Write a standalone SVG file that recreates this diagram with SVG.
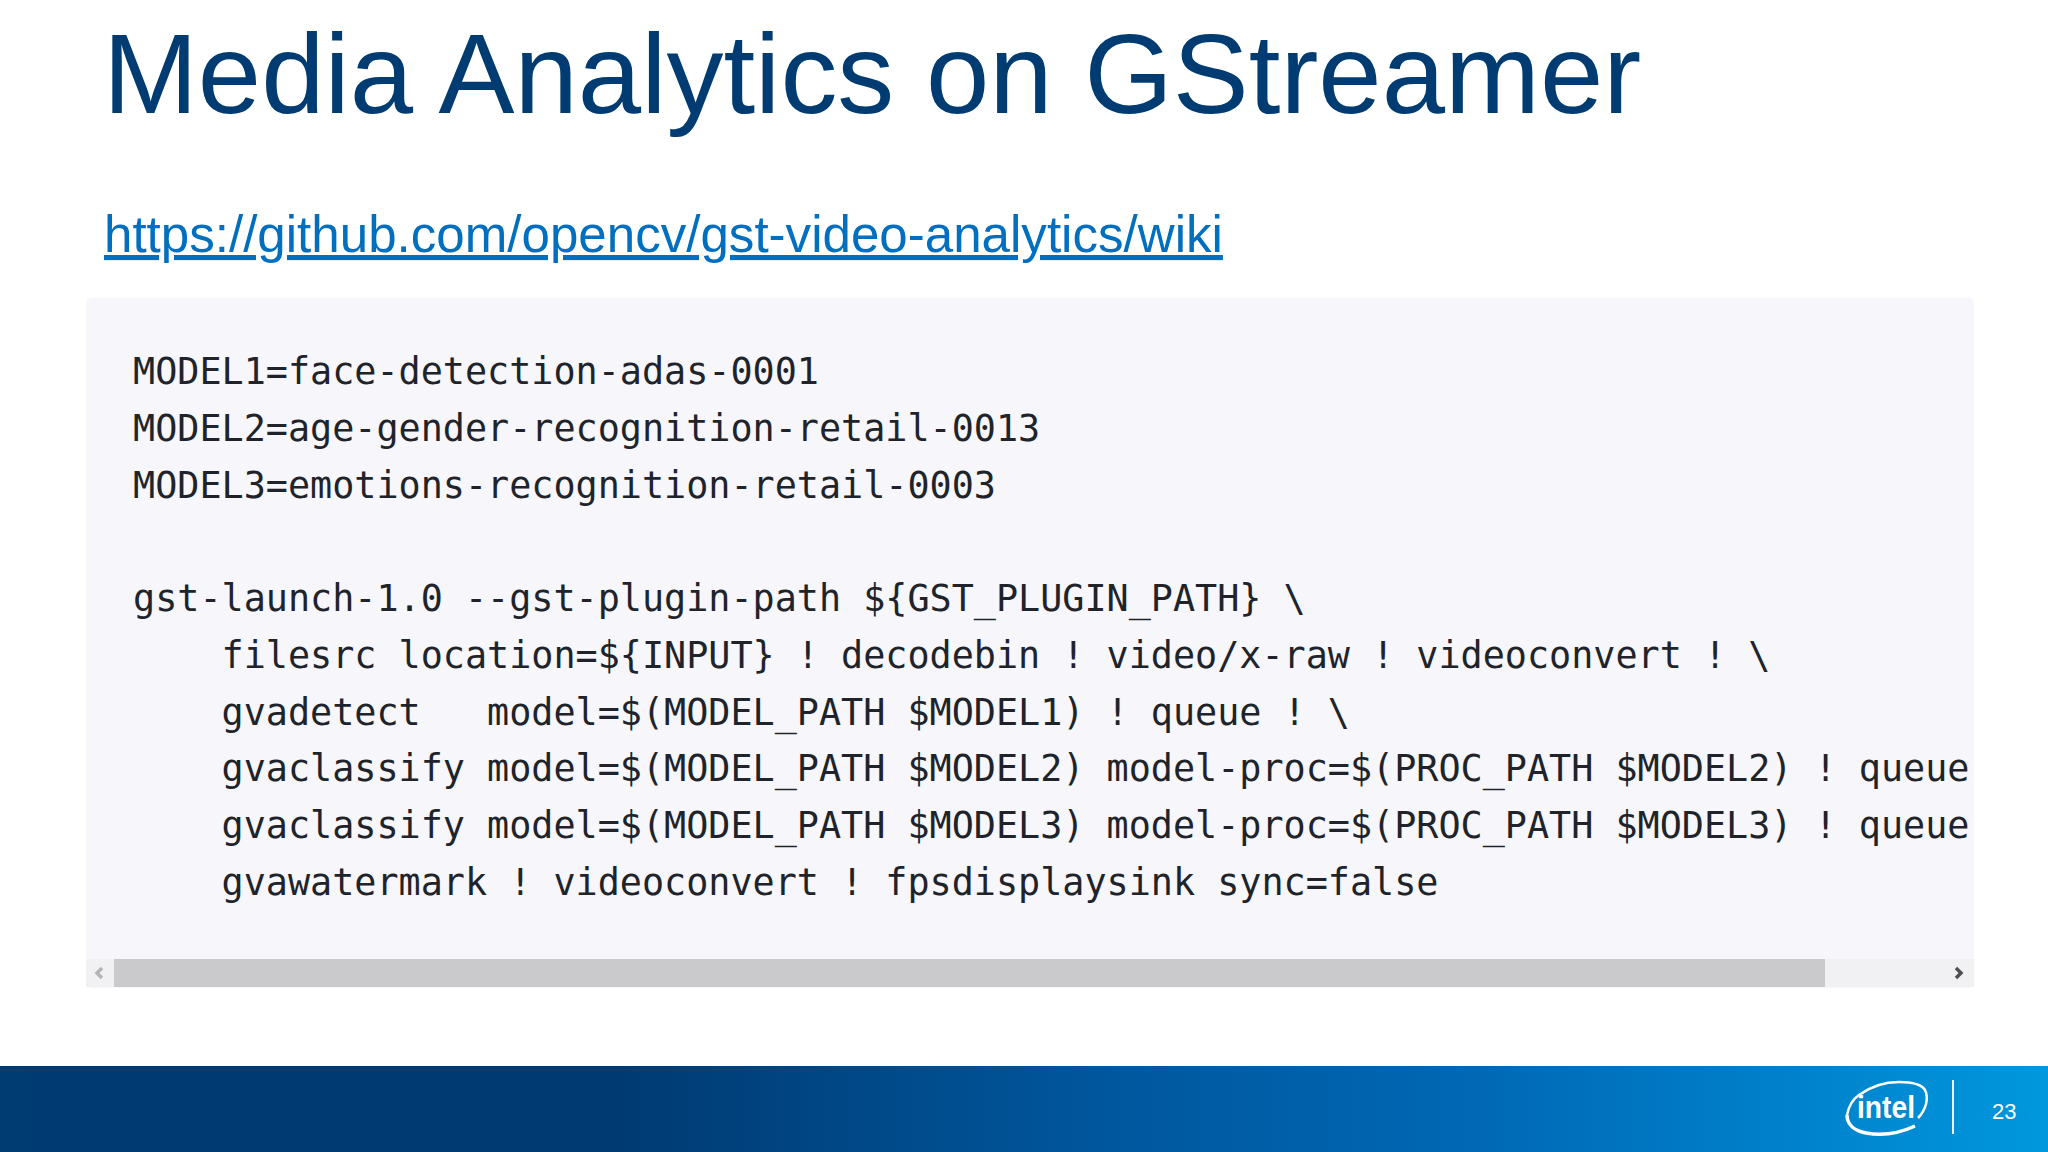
<svg xmlns="http://www.w3.org/2000/svg" width="2048" height="1152" viewBox="0 0 2048 1152">
<style>
.code{font-family:"DejaVu Sans Mono","Liberation Mono",monospace;font-size:36.75px;fill:#20242a;white-space:pre}
.sans{font-family:"Liberation Sans",Arial,sans-serif}
</style>
<defs>
<linearGradient id="bar" x1="0" y1="0" x2="1" y2="0">
<stop offset="0" stop-color="#003c71"/><stop offset="0.02" stop-color="#003a72"/><stop offset="0.3" stop-color="#003a72"/><stop offset="0.55" stop-color="#00589f"/><stop offset="0.72" stop-color="#0068b5"/><stop offset="0.88" stop-color="#0082cc"/><stop offset="1" stop-color="#0098de"/>
</linearGradient>
<clipPath id="codeclip"><rect x="86" y="298" width="1883" height="662"/></clipPath>
</defs>
<rect width="2048" height="1152" fill="#ffffff"/>
<text id="title" class="sans" x="103" y="113" font-size="113.9" fill="#003c71">Media Analytics on GStreamer</text>
<text id="link" class="sans" x="104" y="252" font-size="51.1" fill="#006fbf" text-decoration="underline">https://github.com/opencv/gst-video-analytics/wiki</text>
<g id="codeblock">
<rect x="86" y="298" width="1888" height="690" rx="6" style="fill:#f6f6fb"/>
<g clip-path="url(#codeclip)" xml:space="preserve">
<text class="code" x="133" y="384">MODEL1=face-detection-adas-0001</text>
<text class="code" x="133" y="441">MODEL2=age-gender-recognition-retail-0013</text>
<text class="code" x="133" y="498">MODEL3=emotions-recognition-retail-0003</text>
<text class="code" x="133" y="611">gst-launch-1.0 --gst-plugin-path ${GST_PLUGIN_PATH} \</text>
<text class="code" x="221.5" y="668">filesrc location=${INPUT} ! decodebin ! video/x-raw ! videoconvert ! \</text>
<text class="code" x="221.5" y="725">gvadetect   model=$(MODEL_PATH $MODEL1) ! queue ! \</text>
<text class="code" x="221.5" y="781">gvaclassify model=$(MODEL_PATH $MODEL2) model-proc=$(PROC_PATH $MODEL2) ! queue</text>
<text class="code" x="221.5" y="838">gvaclassify model=$(MODEL_PATH $MODEL3) model-proc=$(PROC_PATH $MODEL3) ! queue</text>
<text class="code" x="221.5" y="895">gvawatermark ! videoconvert ! fpsdisplaysink sync=false</text>
</g>
</g>
<g id="scrollbar">
<rect x="86" y="959" width="1888" height="28" fill="#f1f1f3"/>
<rect x="114" y="959" width="1711" height="28" fill="#cacacc"/>
<path d="M102 968l-5 5 5 5" fill="none" stroke="#b4b4b6" stroke-width="3.5"/>
<path d="M1956 968l5 5-5 5" fill="none" stroke="#505054" stroke-width="3.5"/>
</g>
<g id="footer">
<rect x="0" y="1066" width="2048" height="86" fill="url(#bar)"/>
<path d="M1847 1115C1849 1105 1853 1099 1859 1095C1870 1087 1885 1082 1899 1082C1912 1082 1922 1085 1925 1090C1929 1098 1926 1110 1918 1118" fill="none" stroke="#fff" stroke-width="2.5"/>
<path d="M1847 1115C1847 1125 1855 1131 1866 1133C1882 1136 1900 1133 1915 1126" fill="none" stroke="#fff" stroke-width="3.5"/>
<text class="sans" x="1857" y="1118" font-size="32" font-weight="bold" fill="#fff" textLength="58" lengthAdjust="spacingAndGlyphs">intel</text>
<rect x="1952" y="1080" width="2" height="54" fill="#e8f4fb"/>
<text class="sans" x="1992" y="1119" font-size="22" fill="#fff">23</text>
</g>
</svg>
